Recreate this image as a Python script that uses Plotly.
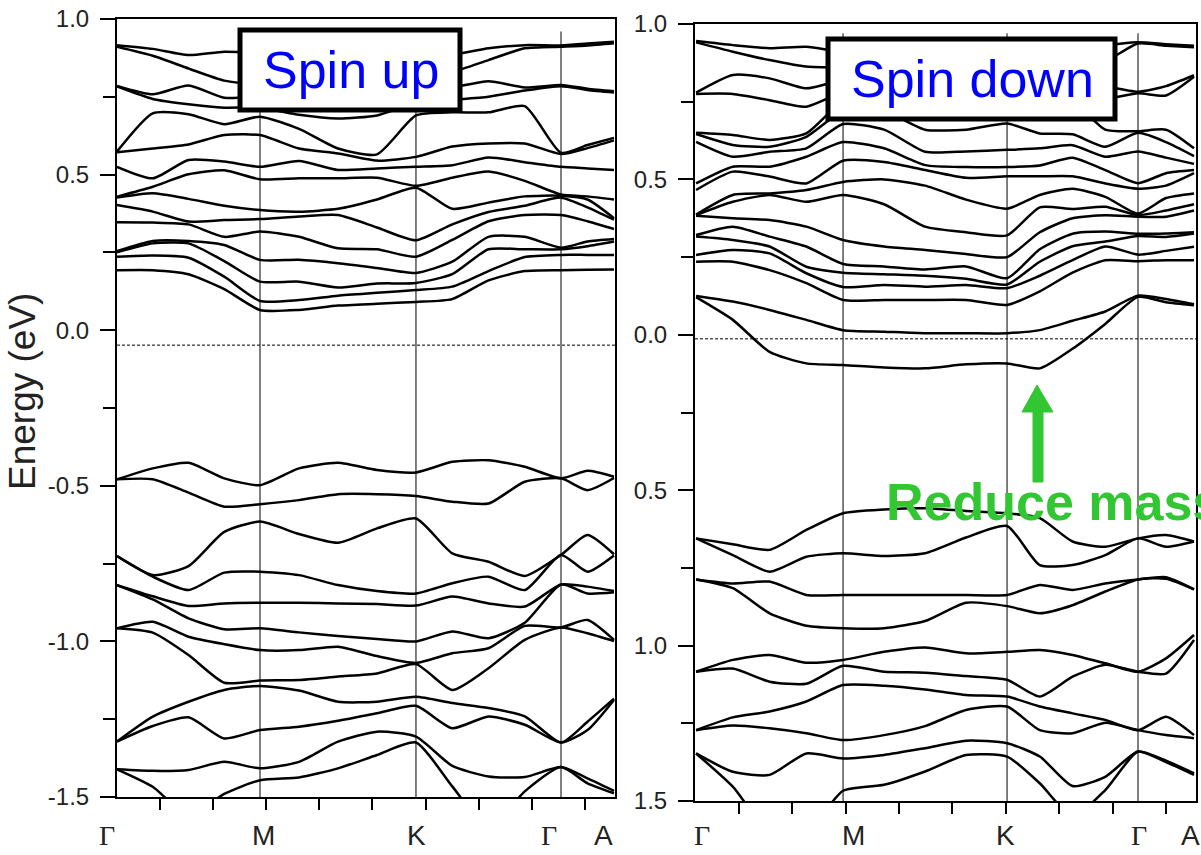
import numpy as np
import plotly.graph_objects as go

W, H = 1201, 855

# ---------------- data ----------------
hs_labels = ["Γ", "M", "K", "Γ", "A"]
k_up = [0.0, 0.2688, 0.5620, 0.8346, 0.9342]      # spin-up path distances of Γ M K Γ A
k_dn = [0.0, 0.2753, 0.5824, 0.8277, 0.9326]      # spin-down path distances
k_ticks = [0.08, 0.18, 0.28, 0.38, 0.48, 0.58, 0.68, 0.78, 0.88]

e_ticks = [1.0, 0.5, 0.0, -0.5, -1.0, -1.5]
up_ticktext = ["1.0", "0.5", "0.0", "-0.5", "-1.0", "-1.5"]
dn_ticktext = ["1.0", "0.5", "0.0", "0.5", "1.0", "1.5"]
e_minor = [0.75, 0.25, -0.25, -0.75, -1.25]

fermi_up = -0.048
fermi_dn = -0.013

# band energies (eV) at the 15 sampled k columns (Γ..M..K..Γ..A), one list per column
up_cond = [
    [0.193, 0.236, 0.250, 0.254, 0.347, 0.402, 0.426, 0.429, 0.525, 0.572, 0.574, 0.783, 0.785, 0.911, 0.916],
    [0.193, 0.240, 0.279, 0.287, 0.346, 0.381, 0.440, 0.461, 0.488, 0.584, 0.697, 0.743, 0.758, 0.882, 0.904],
    [0.180, 0.233, 0.279, 0.287, 0.340, 0.349, 0.422, 0.501, 0.547, 0.597, 0.694, 0.726, 0.786, 0.841, 0.884],
    [0.132, 0.172, 0.222, 0.274, 0.300, 0.354, 0.400, 0.514, 0.542, 0.627, 0.662, 0.715, 0.747, 0.802, 0.895],
    [0.065, 0.094, 0.156, 0.226, 0.317, 0.357, 0.386, 0.485, 0.525, 0.627, 0.686, 0.715, 0.750, 0.790, 0.890],
    [0.065, 0.097, 0.156, 0.226, 0.300, 0.365, 0.381, 0.488, 0.544, 0.584, 0.647, 0.692, 0.750, 0.790, 0.880],
    [0.079, 0.111, 0.137, 0.215, 0.263, 0.370, 0.390, 0.488, 0.515, 0.568, 0.584, 0.680, 0.760, 0.800, 0.880],
    [0.085, 0.120, 0.150, 0.200, 0.260, 0.330, 0.420, 0.490, 0.520, 0.545, 0.565, 0.690, 0.760, 0.800, 0.885],
    [0.091, 0.129, 0.152, 0.184, 0.236, 0.289, 0.458, 0.464, 0.525, 0.557, 0.690, 0.730, 0.770, 0.820, 0.885],
    [0.100, 0.140, 0.180, 0.220, 0.290, 0.340, 0.390, 0.490, 0.530, 0.590, 0.700, 0.740, 0.780, 0.830, 0.885],
    [0.160, 0.190, 0.260, 0.300, 0.350, 0.380, 0.410, 0.510, 0.555, 0.600, 0.700, 0.750, 0.800, 0.868, 0.906],
    [0.190, 0.235, 0.260, 0.300, 0.370, 0.400, 0.430, 0.480, 0.540, 0.600, 0.720, 0.770, 0.780, 0.906, 0.916],
    [0.193, 0.242, 0.260, 0.265, 0.370, 0.426, 0.432, 0.436, 0.525, 0.566, 0.570, 0.784, 0.788, 0.911, 0.915],
    [0.194, 0.242, 0.270, 0.285, 0.350, 0.395, 0.420, 0.430, 0.520, 0.585, 0.595, 0.772, 0.776, 0.915, 0.921],
    [0.195, 0.242, 0.285, 0.293, 0.325, 0.355, 0.360, 0.420, 0.515, 0.610, 0.618, 0.764, 0.768, 0.922, 0.927],
]
up_val = [
    [-0.479, -0.479, -0.726, -0.726, -0.819, -0.819, -0.958, -0.958, -1.322, -1.322, -1.411, -1.411, -1.58],
    [-0.444, -0.479, -0.787, -0.792, -0.855, -0.865, -0.937, -0.972, -1.242, -1.272, -1.416, -1.467, -1.60],
    [-0.426, -0.522, -0.758, -0.835, -0.886, -0.926, -0.985, -1.044, -1.194, -1.244, -1.413, -1.56, -1.62],
    [-0.476, -0.567, -0.648, -0.779, -0.878, -0.961, -1.009, -1.133, -1.156, -1.312, -1.387, -1.490, -1.60],
    [-0.498, -0.559, -0.615, -0.776, -0.876, -0.958, -1.028, -1.126, -1.143, -1.285, -1.408, -1.446, -1.60],
    [-0.444, -0.546, -0.655, -0.787, -0.876, -0.971, -1.028, -1.124, -1.158, -1.274, -1.387, -1.437, -1.60],
    [-0.426, -0.527, -0.683, -0.819, -0.878, -0.983, -1.017, -1.113, -1.194, -1.255, -1.322, -1.408, -1.60],
    [-0.449, -0.527, -0.637, -0.838, -0.880, -0.992, -1.047, -1.103, -1.194, -1.231, -1.290, -1.365, -1.60],
    [-0.457, -0.533, -0.605, -0.846, -0.885, -1.000, -1.069, -1.073, -1.178, -1.207, -1.306, -1.325, -1.60],
    [-0.423, -0.551, -0.717, -0.813, -0.856, -0.968, -1.038, -1.156, -1.198, -1.279, -1.400, -1.466, -1.60],
    [-0.418, -0.557, -0.744, -0.792, -0.878, -0.990, -1.022, -1.086, -1.214, -1.241, -1.434, -1.60, -1.65],
    [-0.439, -0.487, -0.790, -0.835, -0.888, -0.940, -0.950, -0.995, -1.241, -1.268, -1.436, -1.482, -1.60],
    [-0.476, -0.476, -0.722, -0.722, -0.817, -0.817, -0.955, -0.955, -1.325, -1.325, -1.404, -1.404, -1.58],
    [-0.452, -0.514, -0.658, -0.776, -0.824, -0.846, -0.931, -0.974, -1.258, -1.285, -1.440, -1.456, -1.60],
    [-0.471, -0.475, -0.720, -0.724, -0.838, -0.842, -0.995, -0.999, -1.184, -1.188, -1.480, -1.488, -1.62],
]
dn_cond = [
    [0.121, 0.125, 0.235, 0.257, 0.316, 0.321, 0.383, 0.385, 0.387, 0.466, 0.487, 0.621, 0.646, 0.650, 0.775, 0.779, 0.941, 0.945],
    [0.048, 0.107, 0.235, 0.273, 0.305, 0.348, 0.375, 0.428, 0.450, 0.525, 0.541, 0.573, 0.611, 0.643, 0.775, 0.836, 0.911, 0.932],
    [-0.055, 0.080, 0.208, 0.262, 0.284, 0.316, 0.369, 0.450, 0.455, 0.509, 0.541, 0.589, 0.605, 0.627, 0.755, 0.825, 0.884, 0.922],
    [-0.092, 0.048, 0.166, 0.198, 0.219, 0.284, 0.348, 0.428, 0.466, 0.487, 0.573, 0.600, 0.637, 0.648, 0.734, 0.793, 0.863, 0.927],
    [-0.097, 0.015, 0.112, 0.154, 0.200, 0.228, 0.305, 0.450, 0.492, 0.560, 0.620, 0.678, 0.720, 0.750, 0.780, 0.820, 0.860, 0.910],
    [-0.105, 0.010, 0.112, 0.160, 0.195, 0.220, 0.284, 0.420, 0.500, 0.556, 0.600, 0.660, 0.720, 0.750, 0.780, 0.820, 0.860, 0.910],
    [-0.108, 0.005, 0.112, 0.155, 0.190, 0.210, 0.273, 0.348, 0.480, 0.530, 0.546, 0.589, 0.660, 0.750, 0.780, 0.820, 0.860, 0.910],
    [-0.095, 0.005, 0.112, 0.160, 0.180, 0.220, 0.260, 0.330, 0.435, 0.505, 0.540, 0.590, 0.660, 0.750, 0.780, 0.820, 0.860, 0.910],
    [-0.092, 0.005, 0.096, 0.150, 0.162, 0.182, 0.250, 0.320, 0.406, 0.510, 0.540, 0.595, 0.680, 0.750, 0.780, 0.820, 0.860, 0.910],
    [-0.108, 0.015, 0.140, 0.190, 0.235, 0.275, 0.330, 0.410, 0.450, 0.510, 0.545, 0.600, 0.648, 0.750, 0.780, 0.820, 0.860, 0.910],
    [-0.045, 0.045, 0.200, 0.240, 0.285, 0.325, 0.375, 0.405, 0.470, 0.510, 0.570, 0.610, 0.645, 0.750, 0.780, 0.820, 0.860, 0.910],
    [0.035, 0.075, 0.240, 0.284, 0.300, 0.332, 0.385, 0.412, 0.444, 0.487, 0.530, 0.573, 0.605, 0.660, 0.760, 0.800, 0.880, 0.930],
    [0.122, 0.126, 0.237, 0.258, 0.318, 0.325, 0.380, 0.385, 0.390, 0.470, 0.488, 0.590, 0.650, 0.655, 0.777, 0.782, 0.937, 0.941],
    [0.105, 0.115, 0.240, 0.270, 0.315, 0.326, 0.380, 0.400, 0.440, 0.480, 0.520, 0.570, 0.620, 0.660, 0.770, 0.800, 0.930, 0.935],
    [0.095, 0.098, 0.240, 0.283, 0.326, 0.330, 0.400, 0.420, 0.455, 0.520, 0.530, 0.550, 0.575, 0.600, 0.830, 0.835, 0.925, 0.930],
]
dn_val = [
    [-0.655, -0.655, -0.787, -0.787, -1.084, -1.084, -1.272, -1.272, -1.347, -1.347, -1.58],
    [-0.674, -0.709, -0.800, -0.815, -1.046, -1.074, -1.231, -1.257, -1.406, -1.454, -1.60],
    [-0.692, -0.762, -0.794, -0.896, -1.030, -1.116, -1.212, -1.266, -1.416, -1.60, -1.65],
    [-0.628, -0.714, -0.837, -0.936, -1.055, -1.123, -1.180, -1.282, -1.347, -1.60, -1.65],
    [-0.574, -0.703, -0.837, -0.944, -1.046, -1.065, -1.127, -1.304, -1.363, -1.467, -1.60],
    [-0.562, -0.712, -0.837, -0.944, -1.020, -1.084, -1.129, -1.288, -1.352, -1.448, -1.60],
    [-0.558, -0.703, -0.837, -0.921, -1.006, -1.087, -1.141, -1.259, -1.330, -1.405, -1.60],
    [-0.567, -0.652, -0.837, -0.862, -1.025, -1.098, -1.159, -1.207, -1.306, -1.352, -1.60],
    [-0.574, -0.615, -0.837, -0.873, -1.020, -1.110, -1.164, -1.196, -1.314, -1.357, -1.60],
    [-0.590, -0.741, -0.805, -0.896, -1.014, -1.164, -1.196, -1.272, -1.357, -1.443, -1.60],
    [-0.665, -0.741, -0.821, -0.870, -1.030, -1.100, -1.218, -1.282, -1.452, -1.55, -1.60],
    [-0.682, -0.709, -0.800, -0.826, -1.057, -1.062, -1.239, -1.248, -1.422, -1.465, -1.60],
    [-0.655, -0.655, -0.787, -0.787, -1.084, -1.084, -1.272, -1.272, -1.341, -1.341, -1.60],
    [-0.644, -0.682, -0.780, -0.785, -1.041, -1.090, -1.229, -1.288, -1.370, -1.375, -1.60],
    [-0.665, -0.665, -0.819, -0.819, -0.966, -0.982, -1.288, -1.298, -1.411, -1.416, -1.60],
]

# ---------------- helpers ----------------
def kgrid(hs):
    pts = []
    for s in range(3):
        a, b = hs[s], hs[s + 1]
        for f in (0.0, 0.25, 0.5, 0.75):
            pts.append(a + (b - a) * f)
    a, b = hs[3], hs[4]
    pts += [a, 0.5 * (a + b), b]
    return pts

def px(x):
    return x / W

def py(y):
    return 1 - y / H

FONT = "Liberation Sans, Arial, sans-serif"
fig = go.Figure()

def add_bands(cols, kpts, xa, ya):
    arr = np.sort(np.array(cols), axis=1)
    for j in range(arr.shape[1]):
        fig.add_trace(go.Scatter(
            x=kpts, y=arr[:, j], mode="lines", xaxis=xa, yaxis=ya,
            line=dict(color="#000000", width=2.5, shape="spline", smoothing=0.6),
            hoverinfo="skip", showlegend=False, cliponaxis=True))

ku, kd = kgrid(k_up), kgrid(k_dn)
add_bands(up_cond, ku, "x", "y")
add_bands(up_val, ku, "x", "y")
add_bands(dn_cond, kd, "x2", "y2")
add_bands(dn_val, kd, "x2", "y2")

# ---------------- axes ----------------
common_x = dict(showgrid=False, zeroline=False, showline=True, mirror=True, automargin=False,
                linecolor="black", linewidth=2, ticks="outside", tickvals=k_ticks,
                ticklen=11, tickwidth=2, tickcolor="black", showticklabels=False)
common_y = dict(showgrid=False, zeroline=False, showline=True, mirror=True, automargin=False,
                linecolor="black", linewidth=2, ticks="outside", tickvals=e_ticks,
                ticklen=15, tickwidth=2, tickcolor="black", range=[-1.5, 1.0],
                tickfont=dict(family=FONT, size=24, color="#222"),
                ticklabelstandoff=6,
                minor=dict(tickvals=e_minor, ticks="outside", ticklen=12,
                           tickwidth=2, tickcolor="black"))

fig.update_layout(
    template="none",
    width=W, height=H, margin=dict(l=0, r=0, t=0, b=0, pad=0, autoexpand=False),
    paper_bgcolor="white", plot_bgcolor="white", showlegend=False,
    xaxis=dict(common_x, domain=[px(117), px(615)], range=[0, 0.9361], anchor="y"),
    yaxis=dict(common_y, domain=[py(797), py(19)], ticktext=up_ticktext, anchor="x"),
    xaxis2=dict(common_x, domain=[px(695), px(1196)], range=[-0.002, 0.9363], anchor="y2"),
    yaxis2=dict(common_y, domain=[py(801), py(24)], ticktext=dn_ticktext, anchor="x2"),
)

shapes = []
# high-symmetry vertical lines
for k in k_up[1:4]:
    shapes.append(dict(type="line", xref="x", yref="y", x0=k, x1=k, y0=-1.5, y1=0.96,
                       line=dict(color="black", width=1)))
for k in k_dn[1:4]:
    shapes.append(dict(type="line", xref="x2", yref="y2", x0=k, x1=k, y0=-1.5, y1=0.97,
                       line=dict(color="black", width=1)))
# Fermi levels
shapes.append(dict(type="line", xref="x", yref="y", x0=0, x1=0.9361, y0=fermi_up, y1=fermi_up,
                   line=dict(color="black", width=1, dash="3px,2px")))
shapes.append(dict(type="line", xref="x2", yref="y2", x0=-0.002, x1=0.9363, y0=fermi_dn, y1=fermi_dn,
                   line=dict(color="black", width=1, dash="3px,2px")))
# label boxes
shapes.append(dict(type="rect", xref="paper", yref="paper", x0=px(240), x1=px(460),
                   y0=py(110), y1=py(30), fillcolor="white",
                   line=dict(color="black", width=5), layer="above"))
shapes.append(dict(type="rect", xref="paper", yref="paper", x0=px(828), x1=px(1115),
                   y0=py(119), y1=py(39), fillcolor="white",
                   line=dict(color="black", width=5), layer="above"))
# green arrow
GREEN = "#33c633"
arrow_pts = [(1033, 482), (1043, 482), (1043, 412), (1053, 412), (1037, 385),
             (1022, 412), (1033, 412)]
path = "M " + " L ".join(f"{px(a):.5f},{py(b):.5f}" for a, b in arrow_pts) + " Z"
shapes.append(dict(type="path", xref="paper", yref="paper", path=path,
                   fillcolor=GREEN, line=dict(color=GREEN, width=1), layer="above"))
fig.update_layout(shapes=shapes)

ann = []
ann.append(dict(text="Spin up", x=px(351), y=py(70), xref="paper", yref="paper",
                showarrow=False, font=dict(family=FONT, size=52, color="#0000ff"),
                xanchor="center", yanchor="middle"))
ann.append(dict(text="Spin down", x=px(972), y=py(79), xref="paper", yref="paper",
                showarrow=False, font=dict(family=FONT, size=52, color="#0000ff"),
                xanchor="center", yanchor="middle"))
ann.append(dict(text="<b>Reduce mass</b>", x=px(884), y=py(502), xref="paper", yref="paper",
                showarrow=False, font=dict(family=FONT, size=52, color=GREEN),
                xanchor="left", yanchor="middle"))
ann.append(dict(text="Energy (eV)", x=px(22), y=py(392), xref="paper", yref="paper",
                showarrow=False, textangle=-90, font=dict(family=FONT, size=37, color="#222"),
                xanchor="center", yanchor="middle"))
lab_up_px = [107, 263, 416, 549, 603]
lab_dn_px = [702, 853, 1005, 1139, 1190]
for lab, xp in list(zip(hs_labels, lab_up_px)) + list(zip(hs_labels, lab_dn_px)):
    fam = "Liberation Serif, Times New Roman, serif" if lab == "Γ" else FONT
    ann.append(dict(text=lab, x=px(xp), y=py(835), xref="paper", yref="paper",
                    showarrow=False, font=dict(family=fam, size=28, color="#222"),
                    xanchor="center", yanchor="middle"))
fig.update_layout(annotations=ann)

fig.write_html("out.html")
